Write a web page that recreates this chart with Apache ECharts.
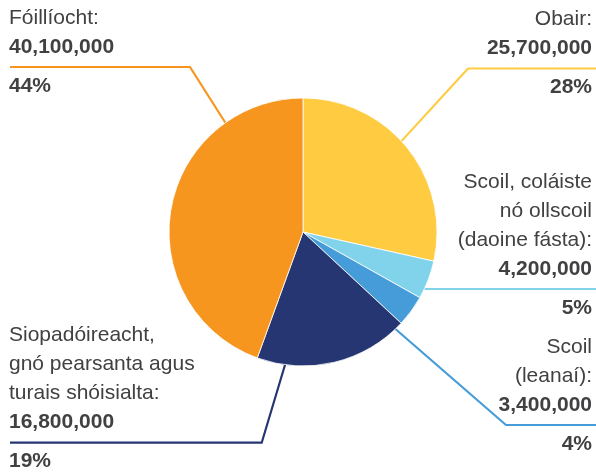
<!DOCTYPE html>
<html><head><meta charset="utf-8">
<script src="https://cdn.jsdelivr.net/npm/echarts@6/dist/echarts.min.js"></script>
<style>html,body{margin:0;padding:0;background:#fff}#c{width:596px;height:475px}</style>
</head><body><div id="c"></div>
<script>
const categories = ['Obair:', 'Scoil, coláiste\nnó ollscoil\n(daoine fásta):', 'Scoil\n(leanaí):', 'Siopadóireacht,\ngnó pearsanta agus\nturais shóisialta:', 'Fóillíocht:'];
const values = [25700000, 4200000, 3400000, 16800000, 40100000];
const colors = ['#FFCB40', '#80D3EA', '#459CD8', '#253672', '#F7961F'];

// label placement (layout/style only)
const labelCfg = [
  {side: 'right', angle: 47.3, hrY: 68.5, elbowX: 468},
  {side: 'right', angle: 115.2, hrY: 289, elbowX: null},
  {side: 'right', angle: 136.4, hrY: 425, elbowX: 506},
  {side: 'left', angle: 187.7, hrY: 442.7, elbowX: 261.7},
  {side: 'left', angle: 324.6, hrY: 67, elbowX: 190}
];
const CX = 303, CY = 232, R = 134, LH = 29, FS = 21;
const FONT = "'Liberation Sans', Arial, Helvetica, sans-serif";
const TXT = '#414042';

function fmt(v) { return String(v).replace(/\B(?=(\d{3})+(?!\d))/g, ','); }
function st(align, bold) {
  return {fontSize: FS, lineHeight: LH, color: TXT, align: align, fontFamily: FONT, fontWeight: bold ? 'bold' : 'normal'};
}

const chart = echarts.init(document.getElementById('c'), null, {renderer: 'canvas'});
chart.setOption({
  animation: false,
  backgroundColor: '#fff',
  series: [{
    type: 'pie',
    center: [CX, CY],
    radius: R,
    startAngle: 90,
    clockwise: true,
    avoidLabelOverlap: false,
    data: categories.map((c, i) => ({name: c, value: values[i], itemStyle: {color: colors[i]}})),
    itemStyle: {borderColor: '#fff', borderWidth: 0.8},
    label: {
      show: true,
      position: 'outside',
      formatter: function (p) {
        const s = labelCfg[p.dataIndex].side === 'left' ? 'l' : 'r';
        const lines = p.name.split('\n').map(t => '{n' + s + '|' + t + '}');
        lines.push('{v' + s + '|' + fmt(p.value) + '}');
        lines.push('{g| }');
        lines.push('{p' + s + '|' + Math.round(p.percent) + '%}');
        return lines.join('\n');
      },
      rich: {
        nl: st('left', false), nr: st('right', false),
        vl: st('left', true), vr: st('right', true),
        pl: st('left', true), pr: st('right', true),
        g: {fontSize: 2, lineHeight: 10}
      }
    },
    labelLine: {show: true, length: 20, length2: 20, smooth: false, lineStyle: {width: 2.2}},
    labelLayout: function (params) {
      const cfg = labelCfg[params.dataIndex];
      const a = cfg.angle * Math.PI / 180;
      const p0 = [CX + R * Math.sin(a), CY - R * Math.cos(a)];
      const ex = cfg.elbowX == null ? p0[0] : cfg.elbowX;
      const W = chart.getWidth();
      const endX = cfg.side === 'left' ? 10 : W;
      const k = categories[params.dataIndex].split('\n').length + 1;
      const top = cfg.hrY - 5.5 - k * LH;
      return {
        x: cfg.side === 'left' ? 9 : 592,
        y: top,
        align: cfg.side,
        verticalAlign: 'top',
        labelLinePoints: [p0, [ex, cfg.hrY], [endX, cfg.hrY]]
      };
    }
  }]
});
</script>
</body></html>
